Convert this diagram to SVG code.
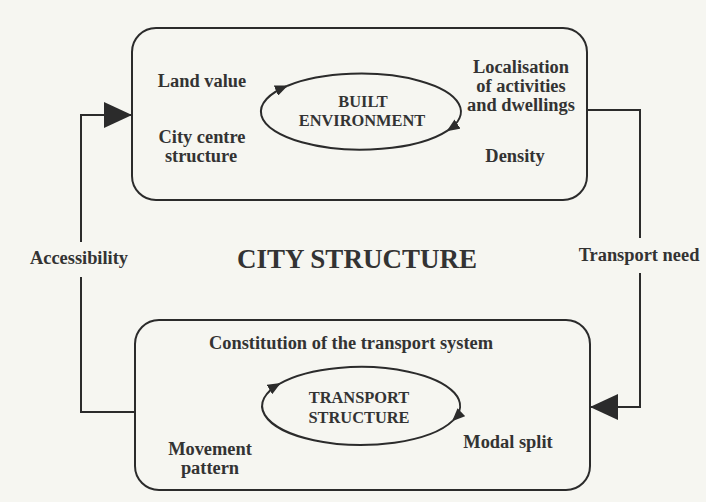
<svg xmlns="http://www.w3.org/2000/svg" width="706" height="502" viewBox="0 0 706 502">
<style>
.bg{fill:#f6f6f1}
.box{fill:none;stroke:#2b2b2b;stroke-width:2}
.cyc{fill:none;stroke:#2b2b2b;stroke-width:2}
.con{fill:none;stroke:#2b2b2b;stroke-width:2}
text{font-family:"Liberation Serif","Times New Roman",serif;font-weight:bold;fill:#333;text-anchor:middle}
.lbl{font-size:18.4px}
.in{font-size:16.4px}
.title{font-size:27px}
</style>
<defs>
<marker id="small" viewBox="0 0 13 11" refX="12" refY="5.5" markerWidth="13" markerHeight="11" markerUnits="userSpaceOnUse" orient="auto">
<path d="M0,0 L13,5.5 L0,11 z" fill="#2b2b2b"/>
</marker>
<marker id="big" viewBox="0 0 28 26" refX="28" refY="13" markerWidth="28" markerHeight="26" markerUnits="userSpaceOnUse" orient="auto">
<path d="M0,0 L28,13 L0,26 z" fill="#2b2b2b"/>
</marker>
</defs>
<rect class="bg" x="0" y="0" width="706" height="502"/>

<g id="connectors">
<path id="accessibility" class="con" d="M135,412 H81 V277 M81,242 V115 H132" marker-end="url(#big)"/>
<path id="transport-need" class="con" d="M587,110 H640 V238 M640,273 V407 H590" marker-end="url(#big)"/>
<text class="lbl" x="79" y="264">Accessibility</text>
<text class="lbl" x="639" y="261">Transport need</text>
</g>

<g id="city-structure-title">
<text class="title" x="357" y="268">CITY STRUCTURE</text>
</g>

<g id="built-environment">
<rect class="box" x="132" y="28" width="455" height="172" rx="24" ry="24"/>
<path class="cyc" d="M447.5,130.6 A100,38 0 1 1 287,86" marker-end="url(#small)"/>
<path class="cyc" d="M287,86 A100,38 0 0 1 447.5,130.6" marker-end="url(#small)"/>
<text class="in" x="363" y="107">BUILT</text>
<text class="in" x="362" y="126">ENVIRONMENT</text>
<text class="lbl" x="202" y="87">Land value</text>
<text class="lbl" x="202" y="143">City centre</text>
<text class="lbl" x="201" y="162">structure</text>
<text class="lbl" x="521" y="73">Localisation</text>
<text class="lbl" x="521" y="92">of activities</text>
<text class="lbl" x="521" y="111">and dwellings</text>
<text class="lbl" x="515" y="162">Density</text>
</g>

<g id="transport-structure">
<rect class="box" x="135" y="320" width="455" height="170" rx="24" ry="24"/>
<path class="cyc" d="M452.8,420.6 A99,39 0 1 1 279.9,383.6" marker-end="url(#small)"/>
<path class="cyc" d="M279.9,383.6 A99,39 0 0 1 452.8,420.6" marker-end="url(#small)"/>
<text class="in" x="359" y="403">TRANSPORT</text>
<text class="in" x="359" y="423">STRUCTURE</text>
<text class="lbl" x="351" y="349">Constitution of the transport system</text>
<text class="lbl" x="210" y="455">Movement</text>
<text class="lbl" x="210" y="474">pattern</text>
<text class="lbl" x="508" y="448">Modal split</text>
</g>
</svg>
